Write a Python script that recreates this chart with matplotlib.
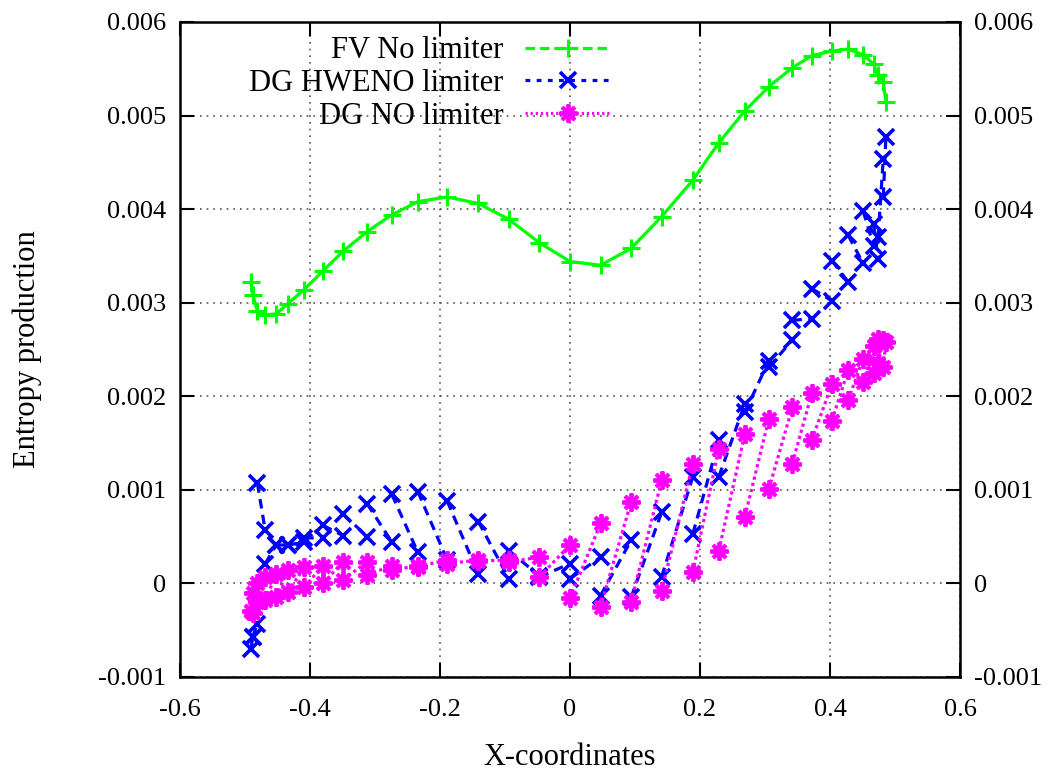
import numpy as np
import matplotlib
matplotlib.use('Agg')
import matplotlib.pyplot as plt
from matplotlib.lines import Line2D

plt.rcParams['font.family'] = ['Liberation Serif', 'DejaVu Serif']

# node positions (shared by all three schemes)
x_nodes = [-0.491, -0.488, -0.481, -0.469, -0.452, -0.434, -0.409, -0.380, -0.349,
           -0.312, -0.274, -0.234, -0.189, -0.141, -0.094, -0.047, 0.0, 0.047,
           0.094, 0.141, 0.189, 0.229, 0.269, 0.306, 0.342, 0.372, 0.403, 0.428,
           0.451, 0.467, 0.474, 0.482, 0.486]

# FV: one value per node
fv_vals = [0.00322, 0.00308, 0.00291, 0.00287, 0.00288, 0.00299, 0.00314, 0.00334,
           0.00355, 0.00376, 0.00394, 0.00408, 0.00413, 0.00406, 0.00389, 0.00364,
           0.00344, 0.00340, 0.00358, 0.00392, 0.00431, 0.00471, 0.00505, 0.00531,
           0.00551, 0.00564, 0.00569, 0.00571, 0.00565, 0.00555, 0.00543, 0.00536,
           0.00515]

# DG: value at left and right end of every cell
hweno_left = [-0.00070, -0.00057, 0.00107, 0.00021, 0.00041, 0.00041, 0.00049, 0.00062,
              0.00074, 0.00085, 0.00095, 0.00098, 0.00088, 0.00066, 0.00035, 0.00007,
              0.00005, -0.00013, -0.00015, 0.00007, 0.00053, 0.00114, 0.00183, 0.00231,
              0.00281, 0.00315, 0.00345, 0.00372, 0.00398, 0.00384, 0.00370, 0.00413]
hweno_right = [-0.00057, -0.00043, 0.00057, 0.00041, 0.00041, 0.00044, 0.00048, 0.00051,
               0.00050, 0.00044, 0.00033, 0.00025, 0.00010, 0.00005, 0.00008, 0.00021,
               0.00028, 0.00046, 0.00076, 0.00114, 0.00153, 0.00192, 0.00238, 0.00260,
               0.00283, 0.00302, 0.00322, 0.00342, 0.00361, 0.00347, 0.00454, 0.00477]

nolim_left = [-0.00030, -0.00032, -0.00020, -0.00018, -0.00015, -0.00009, -0.00004, 0.00000,
              0.00004, 0.00009, 0.00014, 0.00018, 0.00021, 0.00024, 0.00023, 0.00007,
              -0.00016, -0.00025, -0.00020, -0.00008, 0.00012, 0.00035, 0.00071, 0.00101,
              0.00128, 0.00153, 0.00174, 0.00196, 0.00215, 0.00225, 0.00235, 0.00231]
nolim_right = [-0.00010, 0.00000, 0.00007, 0.00010, 0.00014, 0.00017, 0.00019, 0.00023,
               0.00023, 0.00019, 0.00019, 0.00025, 0.00025, 0.00025, 0.00028, 0.00041,
               0.00064, 0.00087, 0.00110, 0.00128, 0.00144, 0.00160, 0.00176, 0.00188,
               0.00203, 0.00213, 0.00228, 0.00240, 0.00254, 0.00261, 0.00260, 0.00258]

x_ticks = [-0.6, -0.4, -0.2, 0, 0.2, 0.4, 0.6]
x_labels = ['-0.6', '-0.4', '-0.2', '0', '0.2', '0.4', '0.6']
y_ticks = [-0.001, 0, 0.001, 0.002, 0.003, 0.004, 0.005, 0.006]
y_labels = ['-0.001', '0', '0.001', '0.002', '0.003', '0.004', '0.005', '0.006']


def cells(left, right):
    # one broken segment per DG cell
    xs, ys = [], []
    for i in range(len(left)):
        xs += [x_nodes[i], x_nodes[i + 1], np.nan]
        ys += [left[i], right[i], np.nan]
    return xs, ys


green = '#00ff00'
blue = '#0000ff'
mag = '#ff00ff'
star = (8, 2, 0)
fs_tick = 19
fs_text = 22

fig = plt.figure(figsize=(10.54, 7.71), dpi=100)
ax = fig.add_axes([0.1708, 0.122, 0.74, 0.8495])

ax.plot(x_nodes, fv_vals, color=green, lw=2.3, marker='+', ms=13, mew=2.2)
hx, hy = cells(hweno_left, hweno_right)
ax.plot(hx, hy, color=blue, lw=2.3, ls=(0, (3, 2)), marker='x', ms=11, mew=2.6)
nx, ny = cells(nolim_left, nolim_right)
ax.plot(nx, ny, color=mag, lw=2.3, ls=(0, (1, 1)), marker=star, ms=13, mew=2.8)

ax.set_xlim(-0.6, 0.6)
ax.set_ylim(-0.001, 0.006)
ax.set_xticks(x_ticks)
ax.set_xticklabels(x_labels)
ax.set_yticks(y_ticks)
ax.set_yticklabels(y_labels)
ax.tick_params(direction='in', length=10, width=1.5, labelsize=fs_tick, top=True,
               right=True, labelright=True)
ax.tick_params(axis='x', pad=16)
ax.tick_params(axis='y', pad=10)
ax.grid(True, color='#555555', ls=(0, (1, 3)), lw=1.2)
for s in ax.spines.values():
    s.set_linewidth(1.8)

ax.set_xlabel('X-coordinates', fontsize=fs_text, labelpad=16)
ax.set_ylabel('Entropy production', fontsize=fs_text, labelpad=40)

handles = [
    Line2D([], [], color=green, lw=2.3, ls=(0, (3, 1.5)), marker='+', ms=13, mew=2.2),
    Line2D([], [], color=blue, lw=2.3, ls=(0, (1.5, 2)), marker='x', ms=11, mew=2.6),
    Line2D([], [], color=mag, lw=2.3, ls=(0, (0.7, 0.9)), marker=star, ms=13, mew=2.8),
]
names = ['FV No limiter', 'DG HWENO limiter', 'DG NO limiter']
ax.legend(handles, names, loc='upper right', bbox_to_anchor=(0.587, 1.02), frameon=False,
          markerfirst=False, fontsize=fs_text, handlelength=2.8, labelspacing=0.12,
          handletextpad=0.7)

fig.savefig('out.png', dpi=100)
